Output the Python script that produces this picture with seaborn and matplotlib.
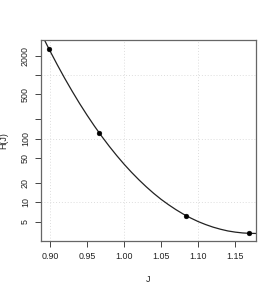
import numpy as np
import pandas as pd
import seaborn as sns
import matplotlib
matplotlib.use("Agg")
import matplotlib.pyplot as plt
from matplotlib.ticker import FixedLocator, FixedFormatter, NullLocator

# observed points
J_pts = [0.899, 0.966, 1.083, 1.168]
H_pts = [2570, 122, 6.25, 3.30]

# fitted curve
J_curve = [0.888, 0.895, 0.90, 0.91, 0.92, 0.93, 0.94, 0.95, 0.96, 0.97,
           0.98, 0.99, 1.00, 1.01, 1.02, 1.03, 1.04, 1.05, 1.06, 1.07,
           1.08, 1.09, 1.10, 1.11, 1.12, 1.13, 1.14, 1.15, 1.16, 1.17, 1.178]
H_curve = [4540, 3112, 2393, 1439, 883, 556, 357, 235, 158, 108.6,
           76.2, 54.6, 39.9, 29.8, 22.7, 17.6, 13.9, 11.2, 9.23, 7.72,
           6.57, 5.70, 5.02, 4.51, 4.11, 3.81, 3.58, 3.43, 3.33, 3.28, 3.27]

y_ticks = [5, 10, 20, 50, 100, 200, 500, 1000, 2000]
y_labels = ["5", "10", "20", "50", "100", "", "500", "", "2000"]
x_ticks = [0.90, 0.95, 1.00, 1.05, 1.10, 1.15]
x_labels = ["0.90", "0.95", "1.00", "1.05", "1.10", "1.15"]

df_pts = pd.DataFrame({"J": J_pts, "H": H_pts})
df_curve = pd.DataFrame({"J": J_curve, "H": H_curve})

sns.set_style("white")
plt.rcParams["font.family"] = ["Liberation Sans", "DejaVu Sans"]

fig = plt.figure(figsize=(2.78, 2.92), dpi=100)
ax = fig.add_axes([41 / 278, 1 - 241 / 292, 215 / 278, 201 / 292])

ax.set_yscale("log")
ax.set_xlim(0.888, 1.178)
ax.set_ylim(2.49, 3525)

# dotted grid like R's grid()
for gx in [0.90, 1.00, 1.10]:
    ax.axvline(gx, color="#dddddd", lw=0.7, ls=(0, (1, 2)), zorder=0)
for gy in [10, 100, 1000]:
    ax.axhline(gy, color="#dddddd", lw=0.7, ls=(0, (1, 2)), zorder=0)

sns.lineplot(data=df_curve, x="J", y="H", ax=ax, color="#222222", lw=0.9)
sns.scatterplot(data=df_pts, x="J", y="H", ax=ax, color="black", s=12,
                edgecolor="black", linewidth=0.3, zorder=3)

ax.xaxis.set_major_locator(FixedLocator(x_ticks))
ax.xaxis.set_major_formatter(FixedFormatter(x_labels))
ax.yaxis.set_major_locator(FixedLocator(y_ticks))
ax.yaxis.set_major_formatter(FixedFormatter(y_labels))
ax.yaxis.set_minor_locator(NullLocator())

ax.tick_params(axis="both", direction="out", length=4, width=0.7,
               color="#444444", labelsize=6.4, labelcolor="#222222", pad=4,
               bottom=True, left=True)
for lab in ax.get_yticklabels():
    lab.set_rotation(90)
    lab.set_va("center")

for sp in ax.spines.values():
    sp.set_color("#666666")
    sp.set_linewidth(0.9)

ax.set_xlabel("J", fontsize=6.4, color="#222222", labelpad=10)
ax.set_ylabel("H(J)", fontsize=6.4, color="#222222", labelpad=9)

fig.savefig("out.png", dpi=100)
